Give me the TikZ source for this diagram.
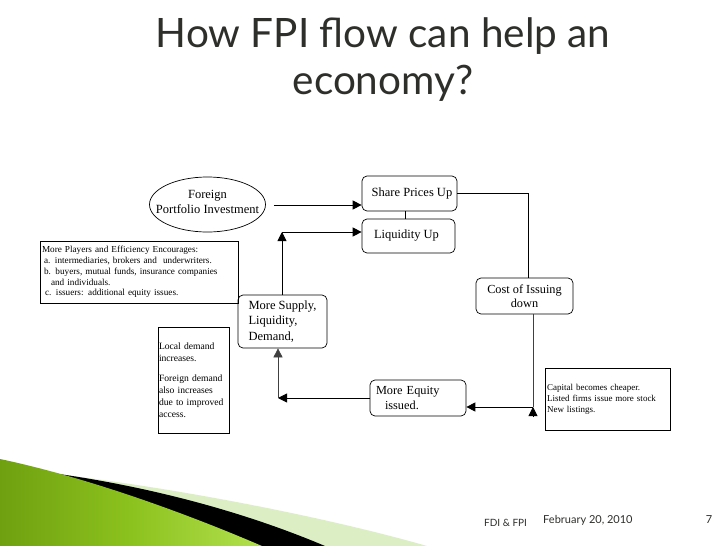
\documentclass[tikz,border=0pt]{standalone}
\usepackage{fontspec}
\setmainfont{Liberation Serif}
\newfontfamily\titlefont{Lato}
\usetikzlibrary{arrows.meta,shapes.geometric,calc}
\definecolor{titlegray}{HTML}{2E2E2A}
\definecolor{lime}{HTML}{8CC21E}
\definecolor{limelight}{HTML}{B2E04E}
\definecolor{limedark}{HTML}{6FA010}
\definecolor{palegreen}{HTML}{DCEFC4}
\tikzset{
  rbox/.style={draw, rounded corners=5pt, line width=0.7pt, inner sep=0pt},
  sbox/.style={draw, line width=0.7pt, inner sep=0pt},
  conn/.style={line width=0.9pt},
  thinconn/.style={line width=0.7pt, draw=black!75},
  tip/.style={-{Triangle[length=9pt,width=9pt]}},
  big/.style={font=\fontsize{12.5}{14.5}\selectfont},
}
\begin{document}
\begin{tikzpicture}[x=1pt,y=-1pt]
\useasboundingbox (0,0) rectangle (728,546);
\fill[white] (0,0) rectangle (728,546);

% bottom decoration
\fill[palegreen] (37,472) .. controls (170,486) and (330,518) .. (427,546) -- (0,546) -- cycle;
\fill[black] (37,471) .. controls (140,484) and (240,510) .. (325,546) -- (0,546) -- cycle;
\shade[left color=limedark, right color=limelight, middle color=lime] (0,459) .. controls (90,478) and (190,515) .. (262,546) -- (0,546) -- cycle;

% title
\node[font=\titlefont\fontsize{40.5}{47}\selectfont, text=titlegray, align=center] (title) at (383,60) {How FPI flow can help an\\economy?};

% nodes
\node[draw, ellipse, line width=0.7pt, minimum width=116pt, minimum height=55pt, inner sep=0pt] (ell) at (207.5,204.5) {};
\node[big, align=center, inner sep=0pt] (elltext) at (207.5,202) {Foreign\\Portfolio Investment};
\node[rbox, big, minimum width=95pt, minimum height=35pt] (share) at (409.5,193.5) {\hspace*{5pt}Share Prices Up};
\node[rbox, big, minimum width=93pt, minimum height=34pt] (liq) at (408.5,236) {\hspace*{-4pt}Liquidity Up};
\node[rbox, minimum width=97pt, minimum height=36pt, align=center, font=\fontsize{12.3}{14}\selectfont] (cost) at (524.5,296) {Cost of Issuing\\down};
\node[sbox, minimum width=125pt, minimum height=62pt, text width=121pt, align=left, font=\fontsize{9}{11}\selectfont] (cap) at (607.5,399) {Capital becomes cheaper.\\Listed firms issue more stock\\New listings.};
\node[rbox, minimum width=96pt, minimum height=36pt, text width=86pt, align=left, font=\fontsize{12.3}{14.5}\selectfont] (equity) at (418,398) {\hspace*{1pt}More Equity\\\hspace*{10pt}issued.};
\node[rbox, minimum width=89pt, minimum height=53pt, align=left, font=\fontsize{12.5}{15.5}\selectfont] (supply) at (282.5,321.5) {More Supply,\\Liquidity,\\Demand,};
\node[sbox, minimum width=198pt, minimum height=62pt, text width=194pt, align=left, font=\fontsize{9.2}{10.8}\selectfont] (players) at (139,272) {More Players and Efficiency Encourages:\\\hspace*{2pt}a. intermediaries, brokers and\ \ underwriters.\\\hspace*{2pt}b. buyers, mutual funds, insurance companies\\\hspace*{9pt}and individuals.\\\hspace*{3pt}c. issuers: additional equity issues.};
\node[sbox, minimum width=71pt, minimum height=106pt, text width=69pt, align=left, font=\fontsize{9.6}{11.8}\selectfont] (local) at (193.5,380) {Local demand\\increases.\\[9pt]Foreign demand\\also increases\\due to improved\\access.};

% coordinates
\coordinate (c1) at (282,232);
\coordinate (c2) at (278,398);
\coordinate (c3) at (533,407);

% connectors
\draw[conn,tip] ([xshift=8pt]ell.east |- 0,205) -- (share.west |- 0,205);
\draw[conn] ([xshift=-4pt]share.south) -- ([xshift=-4pt]share.south |- liq.north);
\draw[conn,tip] (supply.north -| c1) -- (c1);
\draw[conn,tip] (c1) -- (liq.west |- c1);
\draw[conn] (share.east) -| ([xshift=3.5pt]cost.north);
\draw[thinconn] ([xshift=8.5pt]cost.south) -- (c3);
\draw[conn,tip] ([yshift=-10pt]c3) -- (c3);
\draw[conn,tip] (c3) -- (equity.east |- c3);
\draw[conn,tip] (equity.west |- c2) -- (c2);
\draw[thinconn,tip] (c2) -- (c2 |- supply.south);

% footer
\node[font=\titlefont\fontsize{10}{12}\selectfont, text=titlegray, anchor=west, inner sep=0pt] (f1) at (484,523) {FDI \& FPI};
\node[font=\titlefont\fontsize{11}{13}\selectfont, text=titlegray, anchor=west, inner sep=0pt] (f2) at (543,520) {February 20, 2010};
\node[font=\titlefont\fontsize{11}{13}\selectfont, text=titlegray] (f3) at (709,520) {7};
\end{tikzpicture}
\end{document}
